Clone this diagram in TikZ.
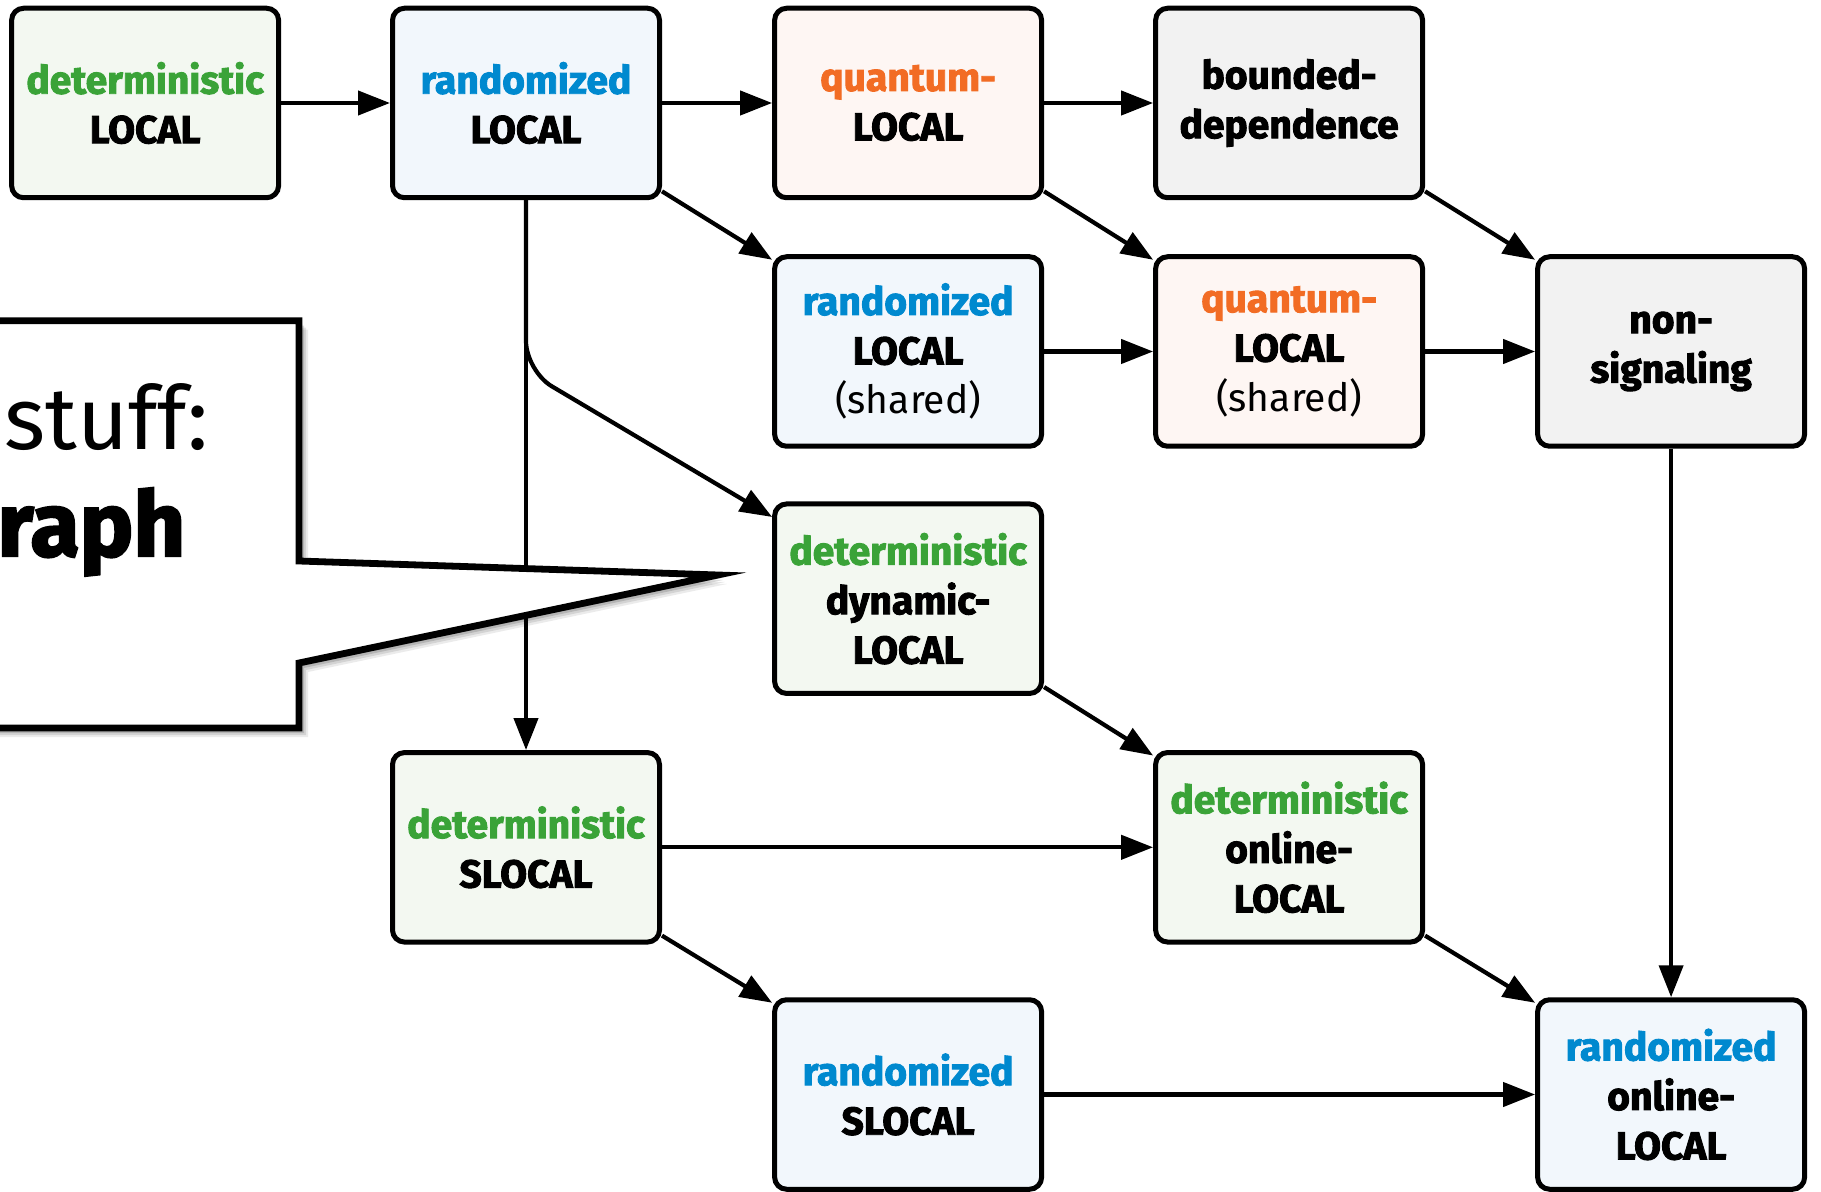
\documentclass[tikz,border=0pt]{standalone}
\usepackage{fontspec}
\setmainfont{Fira Sans}
\newfontfamily\heavyfont{Fira Sans}[BoldFeatures={FakeBold=2.4}]
\newfontfamily\lightfont{Fira Sans}
\usetikzlibrary{arrows.meta}

\definecolor{detgreen}{RGB}{58,163,56}
\definecolor{randblue}{RGB}{0,137,207}
\definecolor{quantorange}{RGB}{242,108,36}
\definecolor{detfill}{RGB}{243,248,241}
\definecolor{randfill}{RGB}{242,247,252}
\definecolor{quantfill}{RGB}{254,246,243}
\definecolor{otherfill}{RGB}{242,242,242}

\newcommand{\detw}{\textcolor{detgreen}{deterministic}}
\newcommand{\randw}{\textcolor{randblue}{randomized}}
\newcommand{\quantw}{\textcolor{quantorange}{quantum-}}
\newcommand{\sharedw}{{\lightfont\mdseries (shared)}}

\begin{document}
\begin{tikzpicture}[x=0.5pt,y=-0.5pt,
  model/.style={draw=black, line width=2.5pt, rounded corners=6pt,
    minimum width=133.5pt, minimum height=94.75pt, align=center, inner sep=0pt,
    font=\heavyfont\bfseries\fontsize{19.5}{24.75}\selectfont},
  detbox/.style={model, fill=detfill},
  randbox/.style={model, fill=randfill},
  quantbox/.style={model, fill=quantfill},
  otherbox/.style={model, fill=otherfill},
  conn/.style={line width=2.1pt, -{Triangle[length=16pt,width=12pt]}},
  bubble/.style={draw=black, fill=white, line width=3.4pt, line join=miter}
]
\useasboundingbox (0,0) rectangle (1821,1192);

% row 1
\node[detbox]   (dL) at (145.1,103)  {\detw\\LOCAL};
\node[randbox]  (rL) at (526,103)    {\randw\\LOCAL};
\node[quantbox] (qL) at (908.1,103)  {\quantw\\LOCAL};
\node[otherbox] (bD) at (1289.1,103) {bounded-\\dependence};
% row 2
\node[randbox]  (rS) at (908.1,351.5)  {\randw\\LOCAL\\\sharedw};
\node[quantbox] (qS) at (1289.1,351.5) {\quantw\\LOCAL\\\sharedw};
\node[otherbox] (nS) at (1671.1,351.5) {non-\\signaling};
% row 3
\node[detbox]   (dD) at (908.1,598.7) {\detw\\dynamic-\\LOCAL};
% row 4
\node[detbox]   (dS) at (526,847.3)    {\detw\\SLOCAL};
\node[detbox]   (dO) at (1289.1,847.3) {\detw\\online-\\LOCAL};
% row 5
\node[randbox]  (rSL) at (908.1,1094.5)  {\randw\\SLOCAL};
\node[randbox]  (rO)  at (1671.1,1094.5) {\randw\\online-\\LOCAL};

% horizontal connectors
\draw[conn] (dL.east) -- (rL.west);
\draw[conn] (rL.east) -- (qL.west);
\draw[conn] (qL.east) -- (bD.west);
\draw[conn] (rS.east) -- (qS.west);
\draw[conn] (qS.east) -- (nS.west);
\draw[conn] (dS.east) -- (dO.west);
\draw[conn] (rSL.east) -- (rO.west);
% diagonal connectors
\draw[conn] (rL.-33) -- (rS.146);
\draw[conn] (qL.-33) -- (qS.146);
\draw[conn] (bD.-33) -- (nS.146);
\draw[conn] (dD.-33) -- (dO.146);
\draw[conn] (dS.-33) -- (rSL.146);
\draw[conn] (dO.-33) -- (rO.146);
% vertical connectors
\draw[conn] (rL.south) -- (dS.north);
\draw[conn] (nS.south) -- (rO.north);
\coordinate (bend) at (526,371);
\draw[conn, rounded corners=15pt] (rL.south) -- (bend) -- (dD.149);

% speech bubble on the left
\begin{scope}
\clip (0,0) rectangle (1821,1192);
\foreach \o/\op in {9/0.08,7/0.10,5/0.14,3/0.18}{
  \fill[black, opacity=\op, shift={(\o,\o)}]
    (-30,320.7) -- (299,320.7) -- (299,561) -- (718,575) -- (299,663)
    -- (299,728) -- (-30,728) -- cycle;
}
\draw[bubble] (-30,320.7) -- (299,320.7) -- (299,561) -- (718,575)
  -- (299,663) -- (299,728) -- (-30,728) -- cycle;
\node[anchor=base west, inner sep=0pt, font=\lightfont\fontsize{44}{50}\selectfont]
  (stuff) at (4,450) {stuff:};
\node[anchor=base west, inner sep=0pt, font=\heavyfont\bfseries\fontsize{45}{50}\selectfont]
  (raph) at (-3,556) {raph};
\end{scope}
\end{tikzpicture}
\end{document}
